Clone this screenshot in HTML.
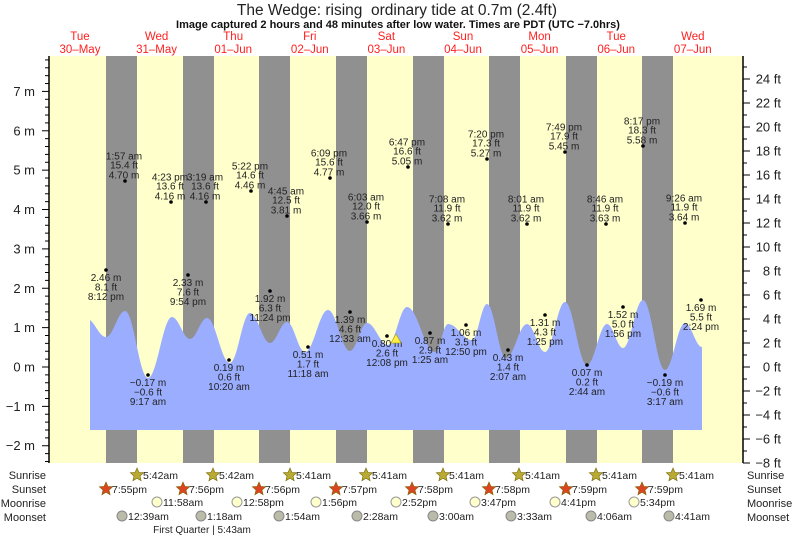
<!DOCTYPE html>
<html><head><meta charset="utf-8"><style>
html,body{margin:0;padding:0;background:#fff}
svg{display:block;font-family:"Liberation Sans",sans-serif}
</style></head><body>
<svg id="s" width="793" height="537" xmlns="http://www.w3.org/2000/svg"></svg>
<script>
const s=document.getElementById('s');let h='';
h+='<rect x="49" y="56" width="694" height="407" fill="#ffffcc"/>';
[106,183,259,336,413,489,566,642].forEach(x=>h+=`<rect x="${x}" y="56" width="31" height="407" fill="#909090"/>`);
const pts=[[90,320],[106,337],[125,311],[148,378],[172,317],[190,339],[207,318],[230,363],[250,313],[270,343],[287,322],[305,352],[328,310],[350,351],[367,323],[388,345],[407,307],[435,352],[448,324],[472,340],[487,304],[506,358],[527,324],[545,352],[565,302],[587,365],[607,324],[623,348],[643,300],[665,370],[685,323],[702,347]];
let d=`M90,430 L90,320`;
for(let i=1;i<pts.length;i++){const [x1,y1]=pts[i-1],[x2,y2]=pts[i];const dx=x2-x1;
d+=` C${x1+dx*0.38},${i==1?y1+5:y1} ${x2-dx*0.38},${y2} ${x2},${y2}`;}
d+=' L702,430 Z';
h+=`<path d="${d}" fill="#9badff"/>`;
h+='<line x1="49" y1="56" x2="49" y2="463" stroke="#000" stroke-width="1.5"/>';
h+='<line x1="743" y1="56" x2="743" y2="463" stroke="#000" stroke-width="1.5"/>';
for(let v=-2.4;v<=7.81;v+=0.2){const y=367-v*39.37;const maj=Math.abs(v-Math.round(v))<0.01;
h+=`<line x1="${maj?42:45}" y1="${y}" x2="49" y2="${y}" stroke="#000"/>`;
if(maj&&Math.round(v)>=-2&&Math.round(v)<=7)h+=`<text x="35" y="${y+4.5}" font-size="13" text-anchor="end" fill="#222">${Math.round(v)<0?'−'+(-Math.round(v)):Math.round(v)} m</text>`;}
for(let f=-8;f<=25;f++){const y=367-f*12;const maj=f%2==0;
h+=`<line x1="743" y1="${y}" x2="${maj?750:747}" y2="${y}" stroke="#000"/>`;
if(maj)h+=`<text x="781" y="${y+4.5}" font-size="13" text-anchor="end" fill="#222">${f<0?'−'+(-f):f} ft</text>`;}
h+='<text x="397" y="15" font-size="15.5" text-anchor="middle" fill="#222" style="white-space:pre">The Wedge: rising  ordinary tide at 0.7m (2.4ft)</text>';
h+='<text x="398" y="28" font-size="11" font-weight="bold" text-anchor="middle" fill="#111">Image captured 2 hours and 48 minutes after low water. Times are PDT (UTC −7.0hrs)</text>';
const days=[['Tue','30–May'],['Wed','31–May'],['Thu','01–Jun'],['Fri','02–Jun'],['Sat','03–Jun'],['Sun','04–Jun'],['Mon','05–Jun'],['Tue','06–Jun'],['Wed','07–Jun']];
days.forEach((dd,i)=>{const x=80+i*76.6;h+=`<text x="${x}" y="40" font-size="11.5" text-anchor="middle" fill="#ff2020">${dd[0]}</text><text x="${x}" y="53" font-size="11.5" text-anchor="middle" fill="#ff2020">${dd[1]}</text>`;});
const T=(x,y,t)=>`<text x="${x}" y="${y}" font-size="10" text-anchor="middle" fill="#222">${t}</text>`;
const dot=(x,y)=>`<circle cx="${x}" cy="${y}" r="1.8" fill="#000"/>`;
const highs=[[125,181,'1:57 am','15.4 ft','4.70 m'],[171,202,'4:23 pm','13.6 ft','4.16 m'],[206,202,'3:19 am','13.6 ft','4.16 m'],[251,191,'5:22 pm','14.6 ft','4.46 m'],[287,216,'4:45 am','12.5 ft','3.81 m'],[330,178,'6:09 pm','15.6 ft','4.77 m'],[367,222,'6:03 am','12.0 ft','3.66 m'],[408,167,'6:47 pm','16.6 ft','5.05 m'],[448,224,'7:08 am','11.9 ft','3.62 m'],[487,159,'7:20 pm','17.3 ft','5.27 m'],[527,224,'8:01 am','11.9 ft','3.62 m'],[565,152,'7:49 pm','17.9 ft','5.45 m'],[606,224,'8:46 am','11.9 ft','3.63 m'],[643,146,'8:17 pm','18.3 ft','5.58 m'],[685,223,'9:26 am','11.9 ft','3.64 m']];
highs.forEach(a=>{const[x,y]=a;h+=dot(x,y)+T(x-1,y-21.5,a[2])+T(x-1,y-12.5,a[3])+T(x-1,y-2.5,a[4]);});
const lows=[[106,270,'2.46 m','8.1 ft','8:12 pm'],[148,375,'−0.17 m','−0.6 ft','9:17 am'],[188,275,'2.33 m','7.6 ft','9:54 pm'],[229,360,'0.19 m','0.6 ft','10:20 am'],[270,291,'1.92 m','6.3 ft','11:24 pm'],[308,347,'0.51 m','1.7 ft','11:18 am'],[350,312,'1.39 m','4.6 ft','12:33 am'],[387,336,'0.80 m','2.6 ft','12:08 pm'],[430,333,'0.87 m','2.9 ft','1:25 am'],[466,325,'1.06 m','3.5 ft','12:50 pm'],[508,350,'0.43 m','1.4 ft','2:07 am'],[545,315,'1.31 m','4.3 ft','1:25 pm'],[587,365,'0.07 m','0.2 ft','2:44 am'],[623,307,'1.52 m','5.0 ft','1:56 pm'],[665,375,'−0.19 m','−0.6 ft','3:17 am'],[701,300,'1.69 m','5.5 ft','2:24 pm']];
lows.forEach(a=>{const[x,y]=a;h+=dot(x,y)+T(x,y+11,a[2])+T(x,y+20.5,a[3])+T(x,y+30,a[4]);});
h+='<polygon points="396,334 401,343 391,343" fill="#ffee44" stroke="#aa9900" stroke-width="0.6"/>';
const L=(y,t)=>`<text x="46" y="${y}" font-size="11" text-anchor="end" fill="#222">${t}</text><text x="747" y="${y}" font-size="11" fill="#222">${t}</text>`;
h+=L(479,'Sunrise')+L(493,'Sunset')+L(507,'Moonrise')+L(521,'Moonset');
const star=(cx,cy,f)=>{let p='';for(let i=0;i<10;i++){const r=i%2?3.2:7,a=-Math.PI/2+i*Math.PI/5;p+=`${(cx+r*Math.cos(a)).toFixed(1)},${(cy+r*Math.sin(a)).toFixed(1)} `;}return `<polygon points="${p}" fill="${f}" stroke="#776600" stroke-width="0.6"/>`;};
const B=(x,y,t)=>`<text x="${x}" y="${y}" font-size="10.5" fill="#222">${t}</text>`;
[137,213,290,366,443,519,596,673].forEach(x=>h+=star(x,475,'#b8aa33')+B(x+6,479,'5:4'+(x<250?'2':'1')+'am'));
const ss=['7:55pm','7:56pm','7:56pm','7:57pm','7:58pm','7:58pm','7:59pm','7:59pm'];
[106,183,259,336,412,489,566,642].forEach((x,i)=>h+=star(x,489,'#dd4422')+B(x+6,493,ss[i]));
const mr=['11:58am','12:58pm','1:56pm','2:52pm','3:47pm','4:41pm','5:34pm'];
[157,237,316,396,475,555,634].forEach((x,i)=>h+=`<circle cx="${x}" cy="502" r="5" fill="#ffffcc" stroke="#999"/>`+B(x+6,506,mr[i]));
const ms=['12:39am','1:18am','1:54am','2:28am','3:00am','3:33am','4:06am','4:41am'];
[122,201,279,357,433,511,591,669].forEach((x,i)=>h+=`<circle cx="${x}" cy="516" r="5" fill="#bbbbaa" stroke="#888"/>`+B(x+6,520,ms[i]));
h+='<text x="202" y="533" font-size="10" text-anchor="middle" fill="#222">First Quarter | 5:43am</text>';
s.innerHTML=h;
</script>
</body></html>
